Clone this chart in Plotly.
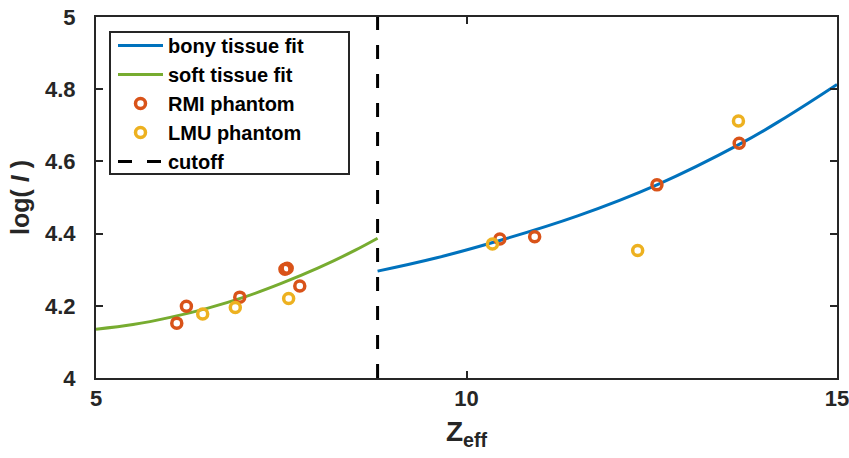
import plotly.graph_objects as go

# Effective atomic number vs. log of mean excitation energy
cutoff_z = 8.8

# fitted curves (sampled)
soft_fit_x = [5.0, 5.5, 6.0, 6.5, 7.0, 7.5, 8.0, 8.5, 8.8]
soft_fit_y = [4.135, 4.148, 4.168, 4.193, 4.224, 4.262, 4.305, 4.354, 4.387]

bony_fit_x = [8.8, 9.6, 10.4, 11.5, 12.57, 13.68, 14.3, 15.0]
bony_fit_y = [4.296, 4.333, 4.378, 4.449, 4.535, 4.647, 4.721, 4.813]

# phantom measurements
rmi_x = [6.09, 6.22, 6.94, 7.55, 7.58, 7.75, 10.45, 10.92, 12.57, 13.68]
rmi_y = [4.152, 4.199, 4.224, 4.301, 4.304, 4.255, 4.385, 4.391, 4.535, 4.650]

lmu_x = [6.44, 6.88, 7.60, 10.35, 12.31, 13.67]
lmu_y = [4.177, 4.195, 4.220, 4.371, 4.353, 4.712]

x_ticks = [5, 10, 15]
x_tick_text = ["5", "10", "15"]
y_ticks = [4.0, 4.2, 4.4, 4.6, 4.8, 5.0]
y_tick_text = ["4", "4.2", "4.4", "4.6", "4.8", "5"]

BLUE = "#0072BD"
GREEN = "#77AC30"
RED = "#D95319"
YELLOW = "#EDB120"
AXIS = "#262626"
FONT = "Liberation Sans, Arial, sans-serif"

fig = go.Figure()

fig.add_trace(go.Scatter(
    x=bony_fit_x, y=bony_fit_y, mode="lines", name="bony tissue fit",
    line=dict(color=BLUE, width=3, shape="spline", smoothing=1.2),
))
fig.add_trace(go.Scatter(
    x=soft_fit_x, y=soft_fit_y, mode="lines", name="soft tissue fit",
    line=dict(color=GREEN, width=3, shape="spline", smoothing=1.0),
))
fig.add_trace(go.Scatter(
    x=rmi_x, y=rmi_y, mode="markers", name="RMI phantom",
    marker=dict(symbol="circle-open", size=10, color=RED,
                line=dict(width=3.5, color=RED)),
))
fig.add_trace(go.Scatter(
    x=lmu_x, y=lmu_y, mode="markers", name="LMU phantom",
    marker=dict(symbol="circle-open", size=10, color=YELLOW,
                line=dict(width=3.5, color=YELLOW)),
))
fig.add_trace(go.Scatter(
    x=[cutoff_z, cutoff_z], y=[4.0, 5.0], mode="lines", name="cutoff",
    line=dict(color="black", width=3, dash="14px,15px"),
))

# legend frame
fig.add_shape(
    type="rect", xref="paper", yref="paper",
    x0=(110 - 96) / 741, x1=(349 - 96) / 741,
    y0=(378 - 174) / 361, y1=(378 - 32) / 361,
    line=dict(color=AXIS, width=2), fillcolor="white", layer="below",
)

axis_common = dict(
    showline=True, linecolor=AXIS, linewidth=2, mirror="ticks",
    ticks="inside", ticklen=7, tickwidth=2, tickcolor=AXIS,
    showgrid=False, zeroline=False, automargin=False,
    ticklabeloverflow="allow",
    tickfont=dict(family=FONT, size=22, color=AXIS, weight="bold"),
)

fig.update_layout(
    width=849, height=458,
    margin=dict(l=96, r=12, t=17, b=80),
    paper_bgcolor="white", plot_bgcolor="white",
    font=dict(family=FONT, color=AXIS),
    showlegend=True,
    legend=dict(
        x=(113 - 96) / 741, y=(378 - 26) / 361, xanchor="left", yanchor="top",
        bgcolor="rgba(0,0,0,0)", borderwidth=0,
        font=dict(family=FONT, size=20, color="black", weight="bold"),
        itemwidth=45, tracegroupgap=0,
    ),
    xaxis=dict(
        range=[5, 15], tickvals=x_ticks, ticktext=x_tick_text,
        ticklabelstandoff=0,
        title=dict(text="Z<sub>eff</sub>", standoff=11,
                   font=dict(family=FONT, size=28, color=AXIS, weight="bold")),
        **axis_common,
    ),
    yaxis=dict(
        range=[4, 5], tickvals=y_ticks, ticktext=y_tick_text,
        ticklabelstandoff=14,
        title=dict(text="log( <i>I</i> )", standoff=8,
                   font=dict(family=FONT, size=25, color=AXIS, weight="bold")),
        **axis_common,
    ),
)

fig.write_html("out.html")
